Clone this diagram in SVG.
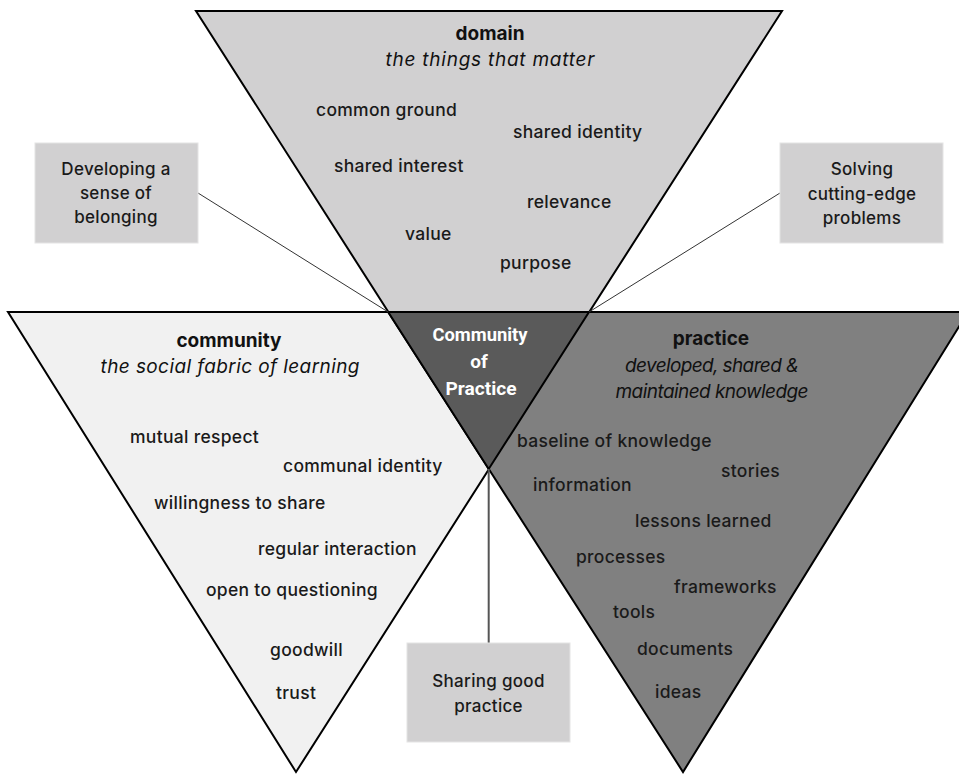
<svg xmlns="http://www.w3.org/2000/svg" width="959" height="774" viewBox="0 0 959 774">
  <style>
    .tri { stroke: #000; stroke-width: 2; stroke-linejoin: miter; }
    .box { fill: #d1d0d1; stroke: #e4e4e4; stroke-width: 1; }
    .item { font-family: Inter, "Liberation Sans", sans-serif; font-size: 17.5px; font-weight: 500; letter-spacing: 0.3px; fill: #1a1a1a; }
    .title { font-family: Inter, "Liberation Sans", sans-serif; font-size: 19px; font-weight: bold; fill: #111; text-anchor: middle; }
    .sub { font-family: Inter, "Liberation Sans", sans-serif; font-size: 19px; font-style: italic; fill: #111; text-anchor: middle; }
    .boxtext { font-family: Inter, "Liberation Sans", sans-serif; font-size: 17px; font-weight: 500; letter-spacing: 0.3px; fill: #1a1a1a; text-anchor: middle; }
    .center { font-family: Roboto, "Liberation Sans", sans-serif; font-size: 19px; font-weight: bold; fill: #fff; text-anchor: middle; }
    .conn { stroke: #333; stroke-width: 1; fill: none; }
  </style>

  <g id="domain">
    <polygon class="tri" points="196,11 782,11 488.7,469" fill="#d1d0d1"/>
    <text class="title" x="490" y="40">domain</text>
    <text class="sub" x="490" y="66" textLength="209" lengthAdjust="spacing">the things that matter</text>
    <text class="item" x="316" y="116">common ground</text>
    <text class="item" x="513" y="138">shared identity</text>
    <text class="item" x="334" y="172">shared interest</text>
    <text class="item" x="527" y="208">relevance</text>
    <text class="item" x="405" y="240">value</text>
    <text class="item" x="500" y="269">purpose</text>
  </g>

  <g id="community">
    <polygon class="tri" points="8,312 589,312 296,772" fill="#f1f1f1"/>
    <text class="title" x="229" y="347">community</text>
    <text class="sub" x="230" y="373" textLength="259" lengthAdjust="spacing">the social fabric of learning</text>
    <text class="item" x="130" y="443">mutual respect</text>
    <text class="item" x="283" y="472">communal identity</text>
    <text class="item" x="154" y="509">willingness to share</text>
    <text class="item" x="258" y="555">regular interaction</text>
    <text class="item" x="206" y="596">open to questioning</text>
    <text class="item" x="270" y="656">goodwill</text>
    <text class="item" x="276" y="699">trust</text>
  </g>

  <g id="practice">
    <polygon class="tri" points="388.2,312 968,312 683,772" fill="#808080"/>
    <text class="title" x="711" y="345">practice</text>
    <text class="sub" x="712" y="372" textLength="174" lengthAdjust="spacing">developed, shared &amp;</text>
    <text class="sub" x="712" y="398" textLength="193" lengthAdjust="spacing">maintained knowledge</text>
    <text class="item" x="517" y="447">baseline of knowledge</text>
    <text class="item" x="721" y="477">stories</text>
    <text class="item" x="533" y="491">information</text>
    <text class="item" x="635" y="527">lessons learned</text>
    <text class="item" x="576" y="563">processes</text>
    <text class="item" x="674" y="593">frameworks</text>
    <text class="item" x="613" y="618">tools</text>
    <text class="item" x="637" y="655">documents</text>
    <text class="item" x="655" y="698">ideas</text>
  </g>

  <g id="community-of-practice">
    <polygon class="tri" points="388.2,312 589,312 488.7,469" fill="#5a5a5a"/>
    <text class="center" x="480" y="341" textLength="95" lengthAdjust="spacingAndGlyphs">Community</text>
    <text class="center" x="479" y="368">of</text>
    <text class="center" x="481" y="395" textLength="71" lengthAdjust="spacingAndGlyphs">Practice</text>
  </g>

  <g id="connectors">
    <line class="conn" x1="198" y1="193" x2="388.2" y2="312"/>
    <line class="conn" x1="780" y1="193" x2="589" y2="312"/>
    <line x1="488.7" y1="469" x2="488.7" y2="643" stroke="#555" stroke-width="2"/>
  </g>

  <g id="belonging">
    <rect class="box" x="35" y="143" width="163" height="100"/>
    <text class="boxtext" x="116" y="175">Developing a</text>
    <text class="boxtext" x="116" y="199">sense of</text>
    <text class="boxtext" x="116" y="223">belonging</text>
  </g>

  <g id="solving">
    <rect class="box" x="780" y="143" width="163" height="100"/>
    <text class="boxtext" x="862" y="175">Solving</text>
    <text class="boxtext" x="862" y="200">cutting-edge</text>
    <text class="boxtext" x="862" y="224">problems</text>
  </g>

  <g id="sharing">
    <rect class="box" x="407" y="643" width="163" height="99"/>
    <text class="boxtext" x="488.5" y="687">Sharing good</text>
    <text class="boxtext" x="488.5" y="712">practice</text>
  </g>
</svg>
